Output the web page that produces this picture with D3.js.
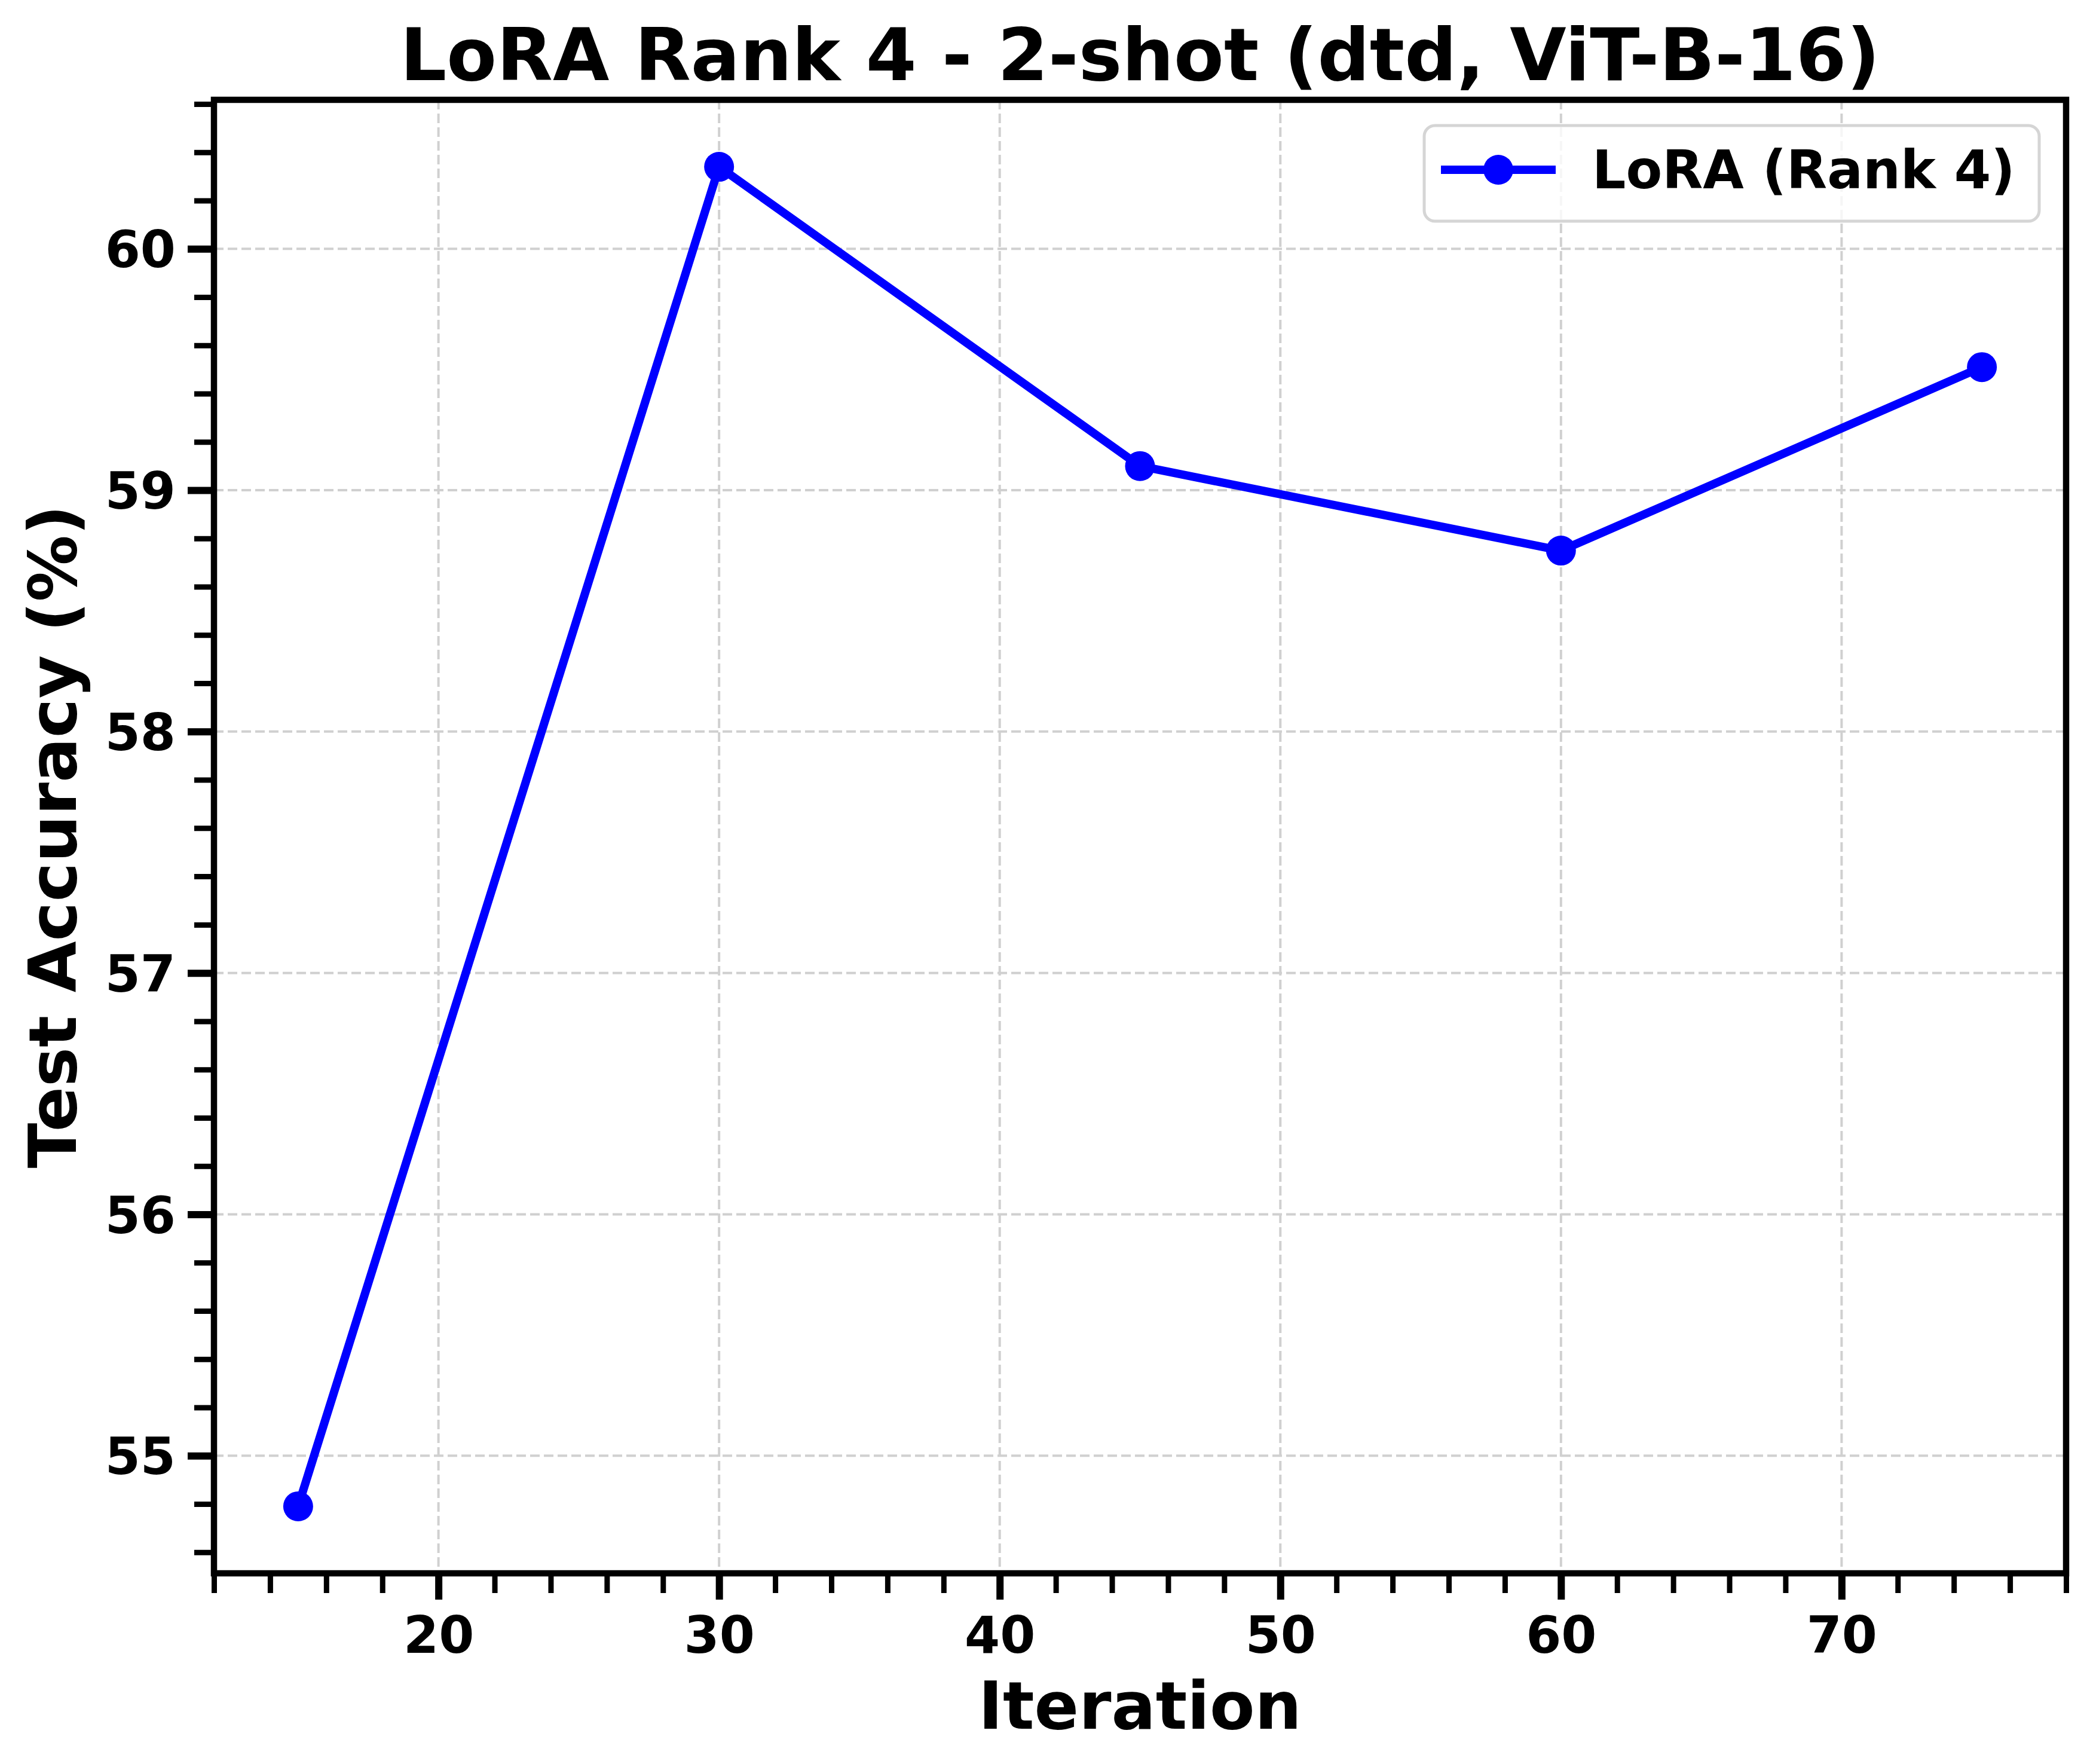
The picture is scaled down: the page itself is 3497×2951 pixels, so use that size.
<!DOCTYPE html>
<html>
<head>
<meta charset="utf-8">
<script src="https://cdn.jsdelivr.net/npm/d3@7"></script>
<style>
  body { margin: 0; background: #ffffff; }
  text { font-family: "DejaVu Sans", sans-serif; font-weight: bold; fill: #000; }
</style>
</head>
<body>
<div id="chart"></div>
<script>
// data
var iterations = [15, 30, 45, 60, 75];
var accuracy = [54.79, 60.34, 59.10, 58.75, 59.51];
var xTicks = [20, 30, 40, 50, 60, 70];
var yTicks = [55, 56, 57, 58, 59, 60];
var seriesName = "LoRA (Rank 4)";
var titleText = "LoRA Rank 4 - 2-shot (dtd, ViT-B-16)";

var data = iterations.map(function (d, i) { return { x: d, y: accuracy[i] }; });

// set the dimensions and margins of the graph
var W = 3497, H = 2951;
var margin = { top: 167, right: 40, bottom: 319, left: 358 },
  width = 3457 - margin.left,
  height = 2632 - margin.top;

var svg = d3.select("#chart")
  .append("svg")
  .attr("width", W)
  .attr("height", H);

svg.append("rect").attr("width", W).attr("height", H).attr("fill", "#fff");

var g = svg.append("g")
  .attr("transform", "translate(" + margin.left + "," + margin.top + ")");

// matplotlib style 5% padding on both axes
var xExt = d3.extent(iterations), yExt = d3.extent(accuracy);
var xPad = (xExt[1] - xExt[0]) * 0.05, yPad = (yExt[1] - yExt[0]) * 0.05;

var x = d3.scaleLinear()
  .domain([xExt[0] - xPad, xExt[1] + xPad])
  .range([0, width]);

var y = d3.scaleLinear()
  .domain([yExt[0] - yPad, yExt[1] + yPad])
  .range([height, 0]);

// grid
g.append("g")
  .selectAll("line")
  .data(xTicks)
  .enter()
  .append("line")
  .attr("x1", function (d) { return x(d); })
  .attr("x2", function (d) { return x(d); })
  .attr("y1", 0)
  .attr("y2", height)
  .attr("stroke", "#d0d0d0")
  .attr("stroke-width", 4)
  .attr("stroke-dasharray", "16,7");

g.append("g")
  .selectAll("line")
  .data(yTicks)
  .enter()
  .append("line")
  .attr("x1", 0)
  .attr("x2", width)
  .attr("y1", function (d) { return y(d); })
  .attr("y2", function (d) { return y(d); })
  .attr("stroke", "#d0d0d0")
  .attr("stroke-width", 4)
  .attr("stroke-dasharray", "16,7");

// minor ticks
var xMinor = d3.range(12, 78.01, 2).filter(function (d) { return xTicks.indexOf(d) < 0; });
var yMinor = d3.range(546, 606.1, 2).map(function (d) { return d / 10; })
  .filter(function (d) { return yTicks.indexOf(d) < 0; });

var xAxisMinor = g.append("g")
  .attr("transform", "translate(0," + height + ")")
  .call(d3.axisBottom(x).tickValues(xMinor).tickSize(33).tickFormat(""));
var yAxisMinor = g.append("g")
  .call(d3.axisLeft(y).tickValues(yMinor).tickSize(33).tickFormat(""));

// major ticks
var xAxis = g.append("g")
  .attr("transform", "translate(0," + height + ")")
  .call(d3.axisBottom(x).tickValues(xTicks).tickSize(44).tickPadding(24).tickFormat(d3.format("d")));
var yAxis = g.append("g")
  .call(d3.axisLeft(y).tickValues(yTicks).tickSize(44).tickPadding(20).tickFormat(d3.format("d")));

[xAxisMinor, yAxisMinor].forEach(function (a) {
  a.select(".domain").remove();
  a.selectAll(".tick line").attr("stroke", "#000").attr("stroke-width", 9);
});
[xAxis, yAxis].forEach(function (a) {
  a.select(".domain").remove();
  a.selectAll(".tick line").attr("stroke", "#000").attr("stroke-width", 12);
  a.selectAll(".tick text")
    .style("font-family", "'DejaVu Sans', sans-serif")
    .style("font-weight", "bold")
    .style("font-size", "85px")
    .attr("fill", "#000");
});
xAxis.selectAll(".tick text").attr("dy", null).attr("y", 133);
yAxis.selectAll(".tick text").attr("dy", "0.36em");

// the line
var line = d3.line()
  .x(function (d) { return x(d.x); })
  .y(function (d) { return y(d.y); });

g.append("path")
  .datum(data)
  .attr("fill", "none")
  .attr("stroke", "#0000ff")
  .attr("stroke-width", 14)
  .attr("stroke-linejoin", "round")
  .attr("d", line);

g.selectAll(".dot")
  .data(data)
  .enter()
  .append("circle")
  .attr("class", "dot")
  .attr("cx", function (d) { return x(d.x); })
  .attr("cy", function (d) { return y(d.y); })
  .attr("r", 25)
  .attr("fill", "#0000ff");

// frame
g.append("rect")
  .attr("width", width)
  .attr("height", height)
  .attr("fill", "none")
  .attr("stroke", "#000")
  .attr("stroke-width", 10.5);

// legend
var lg = g.append("g")
  .attr("transform", "translate(" + (2383 - margin.left) + "," + (210 - margin.top) + ")");
lg.append("rect")
  .attr("width", 1029)
  .attr("height", 160)
  .attr("rx", 18)
  .attr("fill", "#fff")
  .attr("fill-opacity", 0.8)
  .attr("stroke", "#d5d5d5")
  .attr("stroke-width", 5);
lg.append("line")
  .attr("x1", 28).attr("x2", 220)
  .attr("y1", 74).attr("y2", 74)
  .attr("stroke", "#0000ff")
  .attr("stroke-width", 14);
lg.append("circle")
  .attr("cx", 124).attr("cy", 74).attr("r", 25)
  .attr("fill", "#0000ff");
lg.append("text")
  .attr("x", 281)
  .attr("y", 105)
  .style("font-size", "88.5px")
  .text(seriesName);

// title and axis labels
svg.append("text")
  .attr("x", margin.left + width / 2)
  .attr("y", 134)
  .attr("text-anchor", "middle")
  .style("font-size", "122px")
  .text(titleText);

svg.append("text")
  .attr("x", margin.left + width / 2)
  .attr("y", 2892)
  .attr("text-anchor", "middle")
  .style("font-size", "110px")
  .text("Iteration");

svg.append("text")
  .attr("transform", "translate(127," + (margin.top + height / 2) + ") rotate(-90)")
  .attr("text-anchor", "middle")
  .style("font-size", "111px")
  .text("Test Accuracy (%)");
</script>
</body>
</html>
